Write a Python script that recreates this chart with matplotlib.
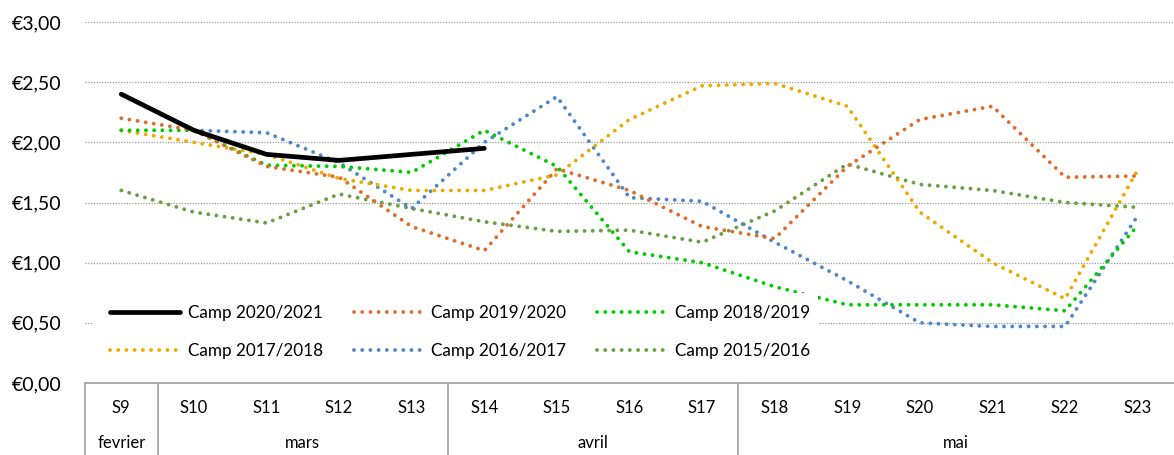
import numpy as np
import matplotlib.pyplot as plt
from matplotlib.patches import Rectangle
from matplotlib.transforms import blended_transform_factory

plt.rcParams['font.family'] = ['Lato', 'DejaVu Sans']

weeks = ["S9", "S10", "S11", "S12", "S13", "S14", "S15", "S16",
         "S17", "S18", "S19", "S20", "S21", "S22", "S23"]
months = ["fevrier", "mars", "avril", "mai"]
month_first = [0, 1, 5, 9]
month_last = [0, 4, 8, 14]

camp_2020 = [2.40, 2.10, 1.90, 1.85, 1.90, 1.95]
camp_2019 = [2.20, 2.10, 1.80, 1.71, 1.30, 1.10, 1.78, 1.60, 1.30, 1.20,
             1.80, 2.19, 2.30, 1.71, 1.72]
camp_2018 = [2.10, 2.10, 1.81, 1.80, 1.75, 2.10, 1.80, 1.09, 1.00, 0.80,
             0.65, 0.65, 0.65, 0.60, 1.31]
camp_2017 = [2.10, 2.00, 1.90, 1.70, 1.60, 1.60, 1.73, 2.19, 2.47, 2.49,
             2.30, 1.42, 1.00, 0.70, 1.77]
camp_2016 = [None, 2.10, 2.08, 1.83, 1.45, 2.00, 2.38, 1.54, 1.51, 1.17,
             0.85, 0.50, 0.47, 0.47, 1.39]
camp_2015 = [1.60, 1.42, 1.33, 1.57, 1.45, 1.34, 1.26, 1.27, 1.17, 1.43,
             1.82, 1.65, 1.60, 1.50, 1.46]

series = [
    ("Camp 2020/2021", camp_2020, "black", "solid"),
    ("Camp 2019/2020", camp_2019, "#DF6E2D", "dot"),
    ("Camp 2018/2019", camp_2018, "#00CC00", "dot"),
    ("Camp 2017/2018", camp_2017, "#ECAB00", "dot"),
    ("Camp 2016/2017", camp_2016, "#4F88C6", "dot"),
    ("Camp 2015/2016", camp_2015, "#68A042", "dot"),
]

fig = plt.figure(figsize=(11.74, 4.55), dpi=100)
ax = fig.add_axes([85 / 1174, 1 - 383 / 455, 1 - 85 / 1174, (383 - 22) / 455])

handles = []
for i, (name, vals, col, st) in enumerate(series):
    y = np.array([np.nan if v is None else v for v in vals], dtype=float)
    x = np.arange(len(y))
    if st == "solid":
        h, = ax.plot(x, y, color=col, lw=3.4, solid_capstyle='round',
                     solid_joinstyle='round', zorder=10, label=name)
    else:
        h, = ax.plot(x, y, color=col, lw=2.8, linestyle=(0, (0.01, 2.1)),
                     dash_capstyle='round', zorder=5 - i * 0.1, label=name)
    handles.append(h)

ax.set_xlim(-0.5, len(weeks) - 0.5)
ax.set_ylim(0, 3.0)
ax.set_yticks(np.arange(0, 3.01, 0.5))
ax.set_yticklabels(["€" + f"{v:.2f}".replace(".", ",") for v in np.arange(0, 3.01, 0.5)], fontsize=14)
ax.tick_params(axis='y', length=0, pad=17)
ax.set_xticks([])
for s in ["top", "right", "left"]:
    ax.spines[s].set_visible(False)
ax.spines["bottom"].set_color("#A6A6A6")
ax.spines["bottom"].set_linewidth(1.3)
for v in np.arange(0.5, 3.01, 0.5):
    ax.axhline(v, color="#9A9A9A", lw=0.9, ls=(0, (1, 1.2)), zorder=1)

# category table below the axis
tr = blended_transform_factory(ax.transData, ax.transAxes)
for b in [-0.5, 0.5, 4.5, 8.5]:
    ax.plot([b, b], [0, -0.3], transform=tr, color="#A6A6A6", lw=1.3, clip_on=False)
for i, w in enumerate(weeks):
    ax.text(i, -25 / 361, w, transform=tr, ha='center', va='center', fontsize=12)
for m, a, b in zip(months, month_first, month_last):
    ax.text((a + b) / 2, -60 / 361, m, transform=tr, ha='center', va='center', fontsize=12)

# white box behind legend
fig.patches.append(Rectangle((92 / 1174, 1 - 380 / 455), (818 - 92) / 1174, 87 / 455,
                             transform=fig.transFigure, facecolor='white', edgecolor='none', zorder=3))
ax.set_zorder(1)
ax.patch.set_visible(False)
order = [0, 3, 1, 4, 2, 5]
leg = fig.legend([handles[k] for k in order], [series[k][0] for k in order],
                 ncol=3, loc='upper left', bbox_to_anchor=(110 / 1174, 1 - 305 / 455),
                 frameon=False, fontsize=12.3, handlelength=4.1, handletextpad=0.45,
                 columnspacing=1.8, labelspacing=1.3, borderpad=0, borderaxespad=0)
leg.set_zorder(20)

fig.savefig("out.png", dpi=100)
